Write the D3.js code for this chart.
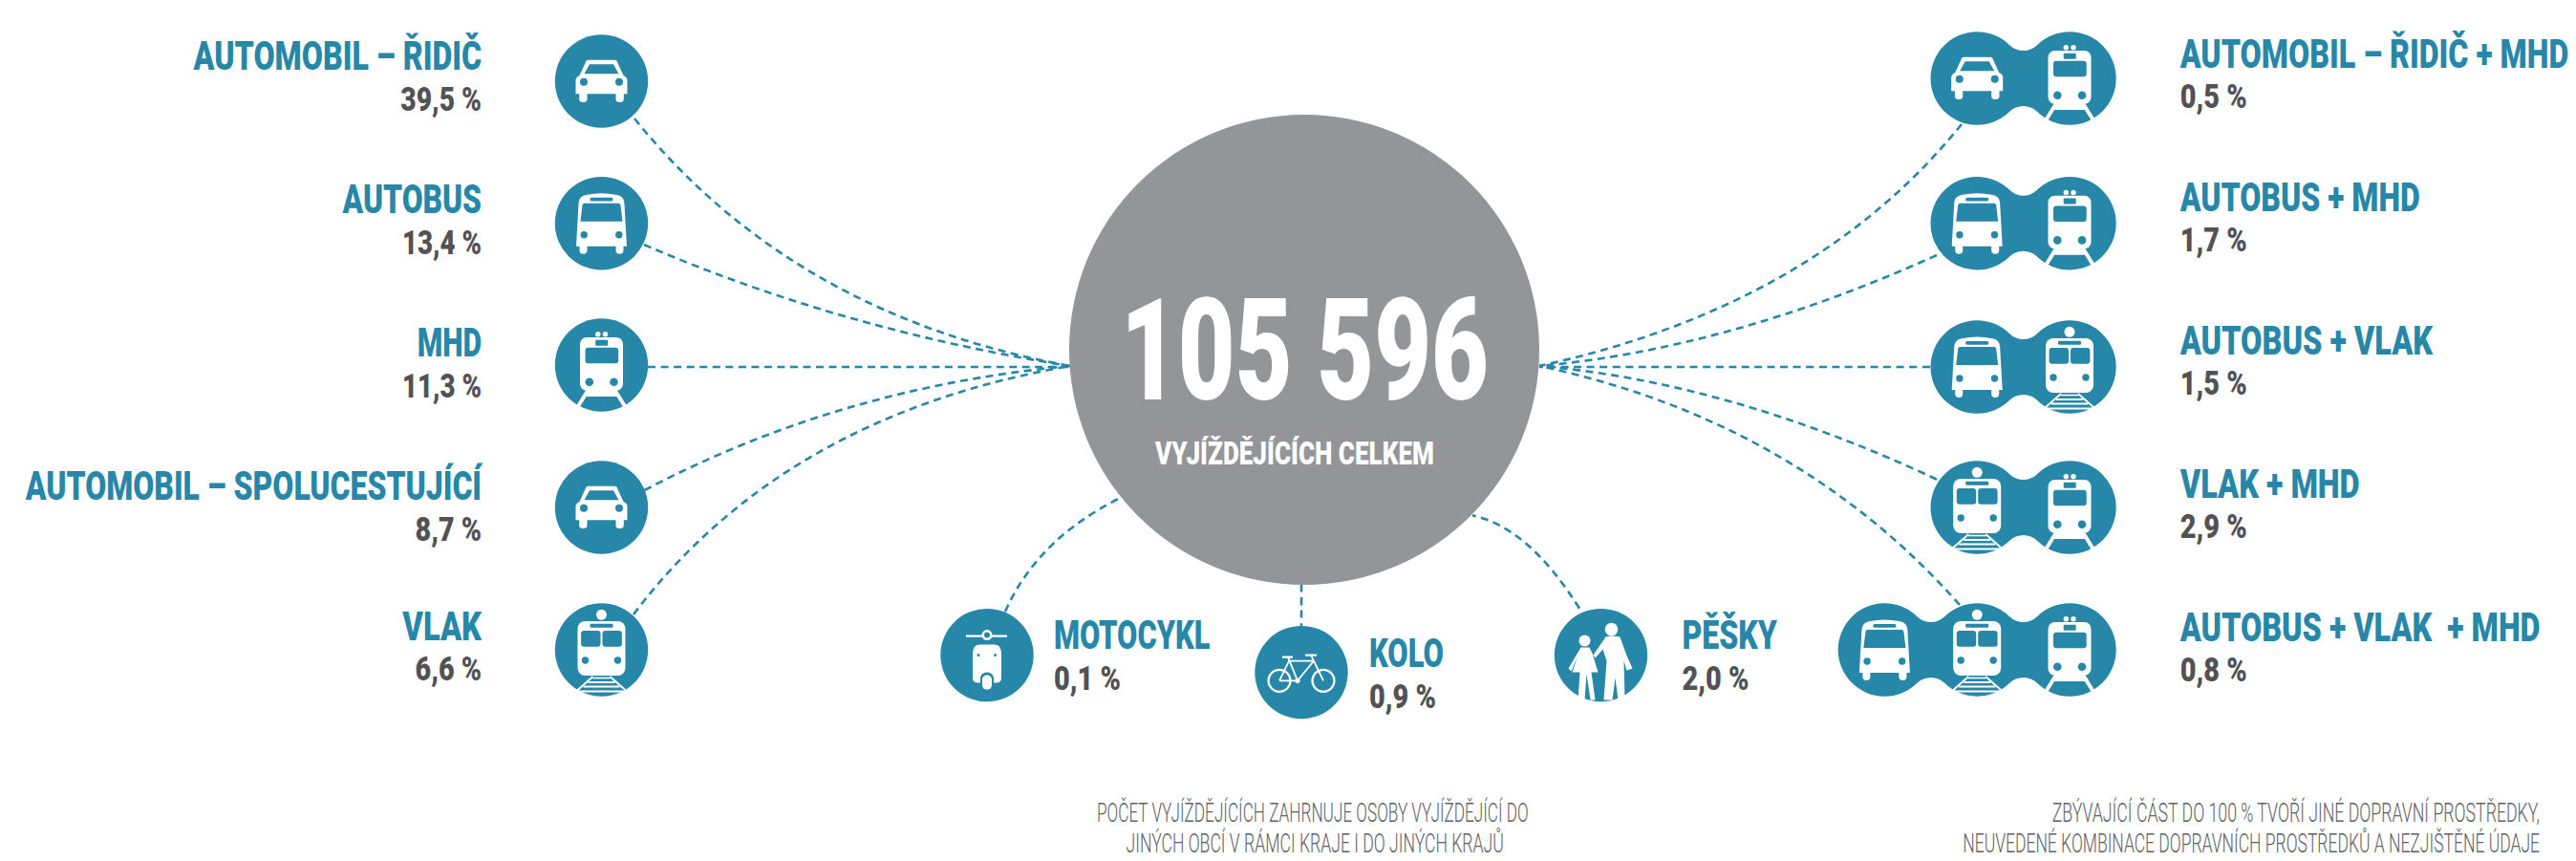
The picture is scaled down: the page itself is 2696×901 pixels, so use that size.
<!DOCTYPE html>
<html lang="cs">
<head>
<meta charset="utf-8" />
<title>Vyjíždějící podle dopravního prostředku</title>
<script src="https://d3js.org/d3.v7.min.js"></script>
<style>
  html, body { margin: 0; padding: 0; background: #fff; }
  svg { display: block; }
  text { font-family: Roboto, "Liberation Sans", sans-serif; white-space: pre; }
</style>
</head>
<body>
<div id="chart"></div>
<script>
// data
const totalCount = 105596;
const totalLabel = "VYJÍŽDĚJÍCÍCH CELKEM";

const leftModes = ["AUTOMOBIL – ŘIDIČ", "AUTOBUS", "MHD", "AUTOMOBIL – SPOLUCESTUJÍCÍ", "VLAK"];
const leftShares = [39.5, 13.4, 11.3, 8.7, 6.6];
const leftIcons = ["car", "bus", "tram", "car", "train"];

const rightModes = ["AUTOMOBIL – ŘIDIČ + MHD", "AUTOBUS + MHD", "AUTOBUS + VLAK", "VLAK + MHD", "AUTOBUS + VLAK  + MHD"];
const rightShares = [0.5, 1.7, 1.5, 2.9, 0.8];
const rightIcons = [["car", "tram"], ["bus", "tram"], ["bus", "train"], ["train", "tram"], ["bus", "train", "tram"]];

const bottomModes = ["MOTOCYKL", "KOLO", "PĚŠKY"];
const bottomShares = [0.1, 0.9, 2.0];
const bottomIcons = ["scooter", "bike", "walk"];

const footnoteCentre = ["POČET VYJÍŽDĚJÍCÍCH ZAHRNUJE OSOBY VYJÍŽDĚJÍCÍ DO", "JINÝCH OBCÍ V RÁMCI KRAJE I DO JINÝCH KRAJŮ"];
const footnoteRight = ["ZBÝVAJÍCÍ ČÁST DO 100 % TVOŘÍ JINÉ DOPRAVNÍ PROSTŘEDKY,", "NEUVEDENÉ KOMBINACE DOPRAVNÍCH PROSTŘEDKŮ A NEZJIŠTĚNÉ ÚDAJE"];

// layout, kept apart from the values
const width = 2696, height = 901;
const teal = "#2787a8", grey = "#939598", dark = "#525254", noteGrey = "#616163";
const R = 48.7;
const hub = {x: 1365, y: 366, r: 246};

const leftRowY = [85, 233.7, 382, 531, 680];
const leftTitleY = [73, 222.7, 373, 523, 670];
const leftShareY = [115.7, 265.7, 415.7, 565.7, 712.3];
const leftTitleW = [301.5, 145.4, 67.3, 477.5, 82.7];
const leftShareW = [84.7, 83, 83, 69.4, 69.4];
const leftIconX = 629.5, leftTextX = 504;

const rightRowY = [82, 233.7, 384, 531, 680];
const rightTitleY = [70.7, 220.7, 370.7, 520.7, 670.7];
const rightShareY = [112.7, 262.7, 412.7, 562.7, 712.7];
const rightTitleW = [406.6, 251, 264.5, 188, 377];
const rightShareW = [70, 70, 70, 70, 70];
const rightIconX = 2166, rightStep = 96.8, rightTextX = 2281.7;

const bottomIconX = [1033, 1362, 1675.5];
const bottomIconY = [685.6, 703.6, 685.6];
const bottomTextX = [1103, 1433, 1760.5];
const bottomTitleY = [679.3, 698.3, 679.3];
const bottomShareY = [721.7, 740.7, 721.7];
const bottomTitleW = [163.6, 78, 99.4];
const bottomShareW = [70, 70, 70];

// connector start, control point and end
const links = [
  [664, 124, 830, 330, 1120, 383], [674, 256, 880, 345, 1120, 383], [678, 384, 900, 384, 1120, 384],
  [674.5, 513, 880, 405, 1120, 383], [663, 643, 820, 435, 1120, 383],
  [2053, 130, 1900, 320, 1611, 383], [2027, 267, 1810, 365, 1611, 383], [2020, 384, 1800, 384, 1611, 384],
  [2027, 501.7, 1810, 400, 1611, 383], [2051, 633, 1880, 440, 1611, 383],
  [1052, 640, 1085, 565, 1171, 521.7], [1362, 612, 1362, 630, 1362, 655], [1653, 636.7, 1600, 552, 1541, 539.3]
];

const svg = d3.select("#chart").append("svg")
  .attr("width", width)
  .attr("height", height);

const czech = d3.formatLocale({decimal: ",", thousands: " ", grouping: [3]});
const pct = v => czech.format(".1f")(v) + " %";

// connectors go first so the hub covers their ends
svg.append("g").selectAll("path")
  .data(links)
  .join("path")
    .attr("d", d => {
      const p = d3.path();
      p.moveTo(d[0], d[1]);
      p.quadraticCurveTo(d[2], d[3], d[4], d[5]);
      return p.toString();
    })
    .attr("fill", "none")
    .attr("stroke", teal)
    .attr("stroke-width", 2.6)
    .attr("stroke-dasharray", "8 5.5");

svg.append("circle")
  .attr("cx", hub.x).attr("cy", hub.y).attr("r", hub.r)
  .attr("fill", grey);

// condensed look: installed fonts are wider than the original, so squeeze to the measured width
function label(str, x, y, size, anchor, fill, weight, w) {
  const t = svg.append("text")
    .attr("text-anchor", anchor)
    .style("font-size", size + "px")
    .style("font-weight", weight)
    .attr("fill", fill)
    .text(str);
  const sx = w / t.node().getComputedTextLength();
  t.attr("transform", `translate(${x},${y}) scale(${sx},1)`);
  return t;
}

label(czech.format(",d")(totalCount), 1173, 418, 148, "start", "#fff", 900, 385);
label(totalLabel, 1209, 486, 34, "start", "#fff", 900, 292);

// a row of lobes joined by concave necks
function blob(cxs, cy) {
  const neck = 29, d = Math.abs(cxs[1] - cxs[0]);
  const f = (d * d / 4 + neck * neck - R * R) / (2 * (R - neck));
  const a = Math.atan2(neck + f, d / 2);
  const n = cxs.length, p = d3.path();
  p.arc(cxs[0], cy, R, a, 2 * Math.PI - a);
  for (let i = 1; i < n; i++) {
    p.arc((cxs[i - 1] + cxs[i]) / 2, cy - neck - f, f, Math.PI - a, a, true);
    if (i < n - 1) p.arc(cxs[i], cy, R, Math.PI + a, 2 * Math.PI - a);
  }
  p.arc(cxs[n - 1], cy, R, Math.PI + a, 3 * Math.PI - a);
  for (let i = n - 1; i > 0; i--) {
    p.arc((cxs[i - 1] + cxs[i]) / 2, cy + neck + f, f, -a, -Math.PI + a, true);
    if (i > 1) p.arc(cxs[i - 1], cy, R, a, Math.PI - a);
  }
  p.closePath();
  return p.toString();
}

const dot = (g, x, y, r, c) => g.append("circle").attr("cx", x).attr("cy", y).attr("r", r).attr("fill", c);
const box = (g, x, y, w, h, rx, c) => g.append("rect").attr("x", x).attr("y", y).attr("width", w).attr("height", h).attr("rx", rx).attr("fill", c);
const shape = (g, d, c) => g.append("path").attr("d", d).attr("fill", c);
const bar = (g, d, w) => g.append("path").attr("d", d).attr("fill", "none").attr("stroke", "#fff").attr("stroke-width", w);

const icons = {
  car(g) {
    shape(g, "M-14,-22.3H14Q16,-22.3 17,-19L23,-6Q27,-4 27,-1V13.3H23.3V19Q23.3,22 19,22Q15,22 15,19V13.3H-15V19Q-15,22 -19,22Q-23.3,22 -23.3,19V13.3H-27V-1Q-27,-4 -23,-6L-17,-19Q-16,-22.3 -14,-22.3Z", "#fff");
    shape(g, "M-12.5,-17.7H12.5L18,-7.7H-18Z", teal);
    dot(g, -18.5, 0.7, 4, teal); dot(g, 18.5, 0.7, 4, teal);
  },
  bus(g) {
    shape(g, "M-24,-20Q-24,-29 -15,-30Q0,-33 15,-30Q24,-29 24,-20L26.5,24H23V28Q23,32 19,32Q15,32 15,28V24H-15V28Q-15,32 -19,32Q-23,32 -23,28V24H-26.5Z", "#fff");
    box(g, -12, -27, 24, 3.8, 1.5, teal);
    shape(g, "M-18,-21H18Q19.5,-21 20,-19L22,-2H-22L-20,-19Q-19.5,-21 -18,-21Z", teal);
    dot(g, -18.3, 12, 3.7, teal); dot(g, 18.3, 12, 3.7, teal);
  },
  tram(g) {
    dot(g, -3.7, -32.3, 2.7, "#fff"); dot(g, 4, -32.3, 2.7, "#fff");
    bar(g, "M-14.5,27L-25,44M14.5,27L25,44", 4);
    shape(g, "M-14,24H14L19,33H-19Z", "#fff");
    box(g, -22.5, -29, 45, 55.7, 7, "#fff");
    box(g, -6.3, -26.3, 13, 6, 1, teal);
    box(g, -17, -18.3, 34.7, 16.6, 3, teal);
    dot(g, -12.7, 17.7, 4.3, teal); dot(g, 13, 17.7, 4.3, teal);
  },
  train(g) {
    dot(g, 0, -36.7, 5.5, "#fff");
    box(g, -25, -30, 50, 57, 8, "#fff");
    box(g, -12, -27.3, 24, 4, 1, teal);
    box(g, -21.4, -20, 20.4, 16.7, 3, teal);
    box(g, 1, -20, 20.4, 16.7, 3, teal);
    dot(g, -17, 11, 3.7, teal); dot(g, 17, 11, 3.7, teal);
    bar(g, "M-9,29.5H9", 1.6);
    bar(g, "M-14,34H14", 2);
    bar(g, "M-19,38.5H19", 2);
    bar(g, "M-25,43.5H25", 2);
    bar(g, "M-9,28L-26,43M9,28L26,43", 2);
  },
  scooter(g) {
    bar(g, "M-22,-20H21", 2.4);
    dot(g, 0, -21, 5.5, "#fff"); dot(g, 0, -21, 3, teal);
    shape(g, "M-15,-1Q-15,-11 -8,-11H8Q15,-11 15,-1V24Q15,29 9,29H-9Q-15,29 -15,24Z", "#fff");
    dot(g, -9, 0, 1.5, teal); dot(g, 8.5, 0, 1.5, teal);
    box(g, -7, 18, 14, 21, 6.5, teal);
    box(g, -5, 21, 10, 15, 4.5, "#fff");
  },
  bike(g) {
    g.selectAll(null).data([-23, 23]).join("circle")
      .attr("cx", d => d).attr("cy", 8.7).attr("r", 11.5)
      .attr("fill", "none").attr("stroke", "#fff").attr("stroke-width", 2.2);
    bar(g, "M-23,8.7L-13,-12H13L23,8.7M-23,8.7H-4L-14,-16M-4,8.7L13,-12L10,-18", 1.8);
    bar(g, "M-20,-16H-9M4,-18H16", 2.4);
    dot(g, -4, 8.7, 2.6, "#fff");
  },
  walk(g) {
    dot(g, 11, -27, 6.8, "#fff");
    shape(g, "M5,-19Q12,-21 20,-19L26,-2L33,14L27,16L24,6L25,47H18L15,24L12,47H3L6,6L2,-6L-6,3L-8,0Z", "#fff");
    dot(g, -17, -15, 6, "#fff");
    shape(g, "M-21,-8H-12L-9,-2L-3,18H-10L-6,47H-11L-15,20L-17,47H-24L-22,18H-30L-24,0L-31,17L-34,14Z", "#fff");
  }
};

function placeIcon(type, x, y) {
  const g = svg.append("g").attr("transform", `translate(${x},${y})`);
  icons[type](g);
}

// left column
leftModes.forEach((name, i) => {
  svg.append("circle").attr("cx", leftIconX).attr("cy", leftRowY[i]).attr("r", R).attr("fill", teal);
  placeIcon(leftIcons[i], leftIconX, leftRowY[i]);
  label(name, leftTextX, leftTitleY[i], 42, "end", teal, 900, leftTitleW[i]);
  label(pct(leftShares[i]), leftTextX, leftShareY[i], 35, "end", dark, 900, leftShareW[i]);
});

// right column
rightModes.forEach((name, i) => {
  const n = rightIcons[i].length;
  const xs = rightIcons[i].map((d, k) => rightIconX - (n - 1 - k) * rightStep);
  svg.append("path").attr("d", blob(xs, rightRowY[i])).attr("fill", teal);
  rightIcons[i].forEach((d, k) => placeIcon(d, xs[k], rightRowY[i]));
  label(name, rightTextX, rightTitleY[i], 42, "start", teal, 900, rightTitleW[i]);
  label(pct(rightShares[i]), rightTextX, rightShareY[i], 35, "start", dark, 900, rightShareW[i]);
});

// under the hub
bottomModes.forEach((name, i) => {
  svg.append("circle").attr("cx", bottomIconX[i]).attr("cy", bottomIconY[i]).attr("r", R).attr("fill", teal);
  placeIcon(bottomIcons[i], bottomIconX[i], bottomIconY[i]);
  label(name, bottomTextX[i], bottomTitleY[i], 42, "start", teal, 900, bottomTitleW[i]);
  label(pct(bottomShares[i]), bottomTextX[i], bottomShareY[i], 35, "start", dark, 900, bottomShareW[i]);
});

// footnotes
label(footnoteCentre[0], 1148, 860, 28, "start", noteGrey, 300, 452);
label(footnoteCentre[1], 1178.5, 891.7, 28, "start", noteGrey, 300, 395.7);
label(footnoteRight[0], 2658, 860, 28, "end", noteGrey, 300, 510.6);
label(footnoteRight[1], 2658, 891.7, 28, "end", noteGrey, 300, 604);
</script>
</body>
</html>
